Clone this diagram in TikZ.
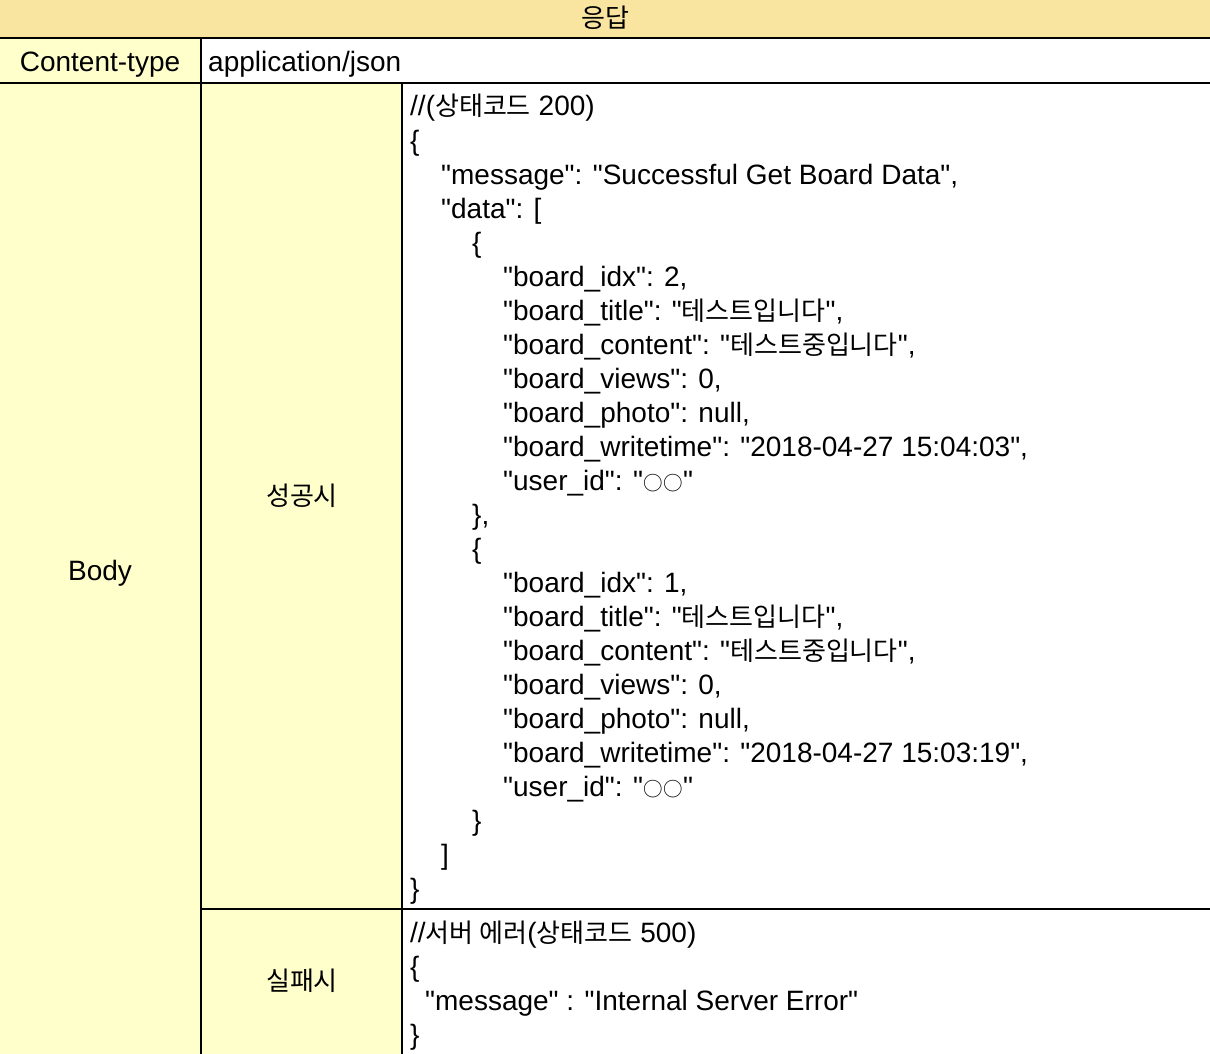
\documentclass[tikz,border=0pt]{standalone}
\usepackage{fontspec}
\setmainfont{Liberation Sans}[Ligatures=TeXOff]
\newfontfamily\kr{Noto Sans CJK KR}[Scale=0.93]
\usetikzlibrary{positioning}
\definecolor{headGold}{RGB}{250,229,160}
\definecolor{cellYellow}{RGB}{255,255,204}
\newcommand\twocirc{{\kr\fontsize{21}{34}\selectfont ○\hspace{1pt}○}}

\begin{document}
\begin{tikzpicture}[x=1pt, y=-1pt, font=\fontsize{28}{34}\selectfont,
    cell/.style={anchor=base, inner sep=0pt},
    json/.style={anchor=base west, inner sep=0pt}]
    \useasboundingbox (0,0) rectangle (1210,1054);

    % grid corners
    \coordinate (TL) at (0,38);
    \coordinate (TR) at (1210,38);
    \coordinate (ML) at (0,83);
    \coordinate (MR) at (1210,83);
    \coordinate (C1) at (201,38);
    \coordinate (C1b) at (201,1054);
    \coordinate (C2) at (402,83);
    \coordinate (C2b) at (402,1054);
    \coordinate (S) at (201,909);
    \coordinate (SR) at (1210,909);

    % cell fills
    \fill[headGold] (0,0) rectangle (TR);
    \fill[cellYellow] (TL) rectangle (C1b);
    \fill[cellYellow] (201,83) rectangle (C2b);

    % rules
    \draw[line width=2pt] (TL)--(TR);
    \draw[line width=2pt] (ML)--(MR);
    \draw[line width=2pt] (C1)--(C1b);
    \draw[line width=2pt] (C2)--(C2b);
    \draw[line width=2pt] (S)--(SR);

    \node[anchor=center, inner sep=0pt] (head) at (605,18) {{\kr 응답}};
    \node[cell] (ctype) at (100,72) {Content-type};
    \node[json] (ctval) at (208,72) {application/json};
    \node[cell] (body) at (100,580) {Body};
    \node[anchor=center, inner sep=0pt] (ok) at (302,496) {{\kr 성공시}};
    \node[anchor=center, inner sep=0pt] (fail) at (302,981) {{\kr 실패시}};

    % success json, one line per row (34 apart)
    \foreach \lv/\txt [count=\i] in {
        0/{//({\kr 상태코드} 200)},
        0/{\{},
        1/{"message": "Successful Get Board Data",},
        1/{"data": [},
        2/{\{},
        3/{"board\_idx": 2,},
        3/{"board\_title": "{\kr 테스트입니다}",},
        3/{"board\_content": "{\kr 테스트중입니다}",},
        3/{"board\_views": 0,},
        3/{"board\_photo": null,},
        3/{"board\_writetime": "2018-04-27 15:04:03",},
        3/{"user\_id": "\twocirc"},
        2/{\},},
        2/{\{},
        3/{"board\_idx": 1,},
        3/{"board\_title": "{\kr 테스트입니다}",},
        3/{"board\_content": "{\kr 테스트중입니다}",},
        3/{"board\_views": 0,},
        3/{"board\_photo": null,},
        3/{"board\_writetime": "2018-04-27 15:03:19",},
        3/{"user\_id": "\twocirc"},
        2/{\}},
        1/{]},
        0/{\}}}
        \node[json] (ok\i) at (410+31*\lv, 82+34*\i) {\txt};

    % failure json
    \foreach \dx/\txt [count=\i] in {
        0/{//{\kr 서버 에러}({\kr 상태코드} 500)},
        0/{\{},
        15/{"message" : "Internal Server Error"},
        0/{\}}}
        \node[json] (fail\i) at (410+\dx, 908+34*\i) {\txt};
\end{tikzpicture}
\end{document}
